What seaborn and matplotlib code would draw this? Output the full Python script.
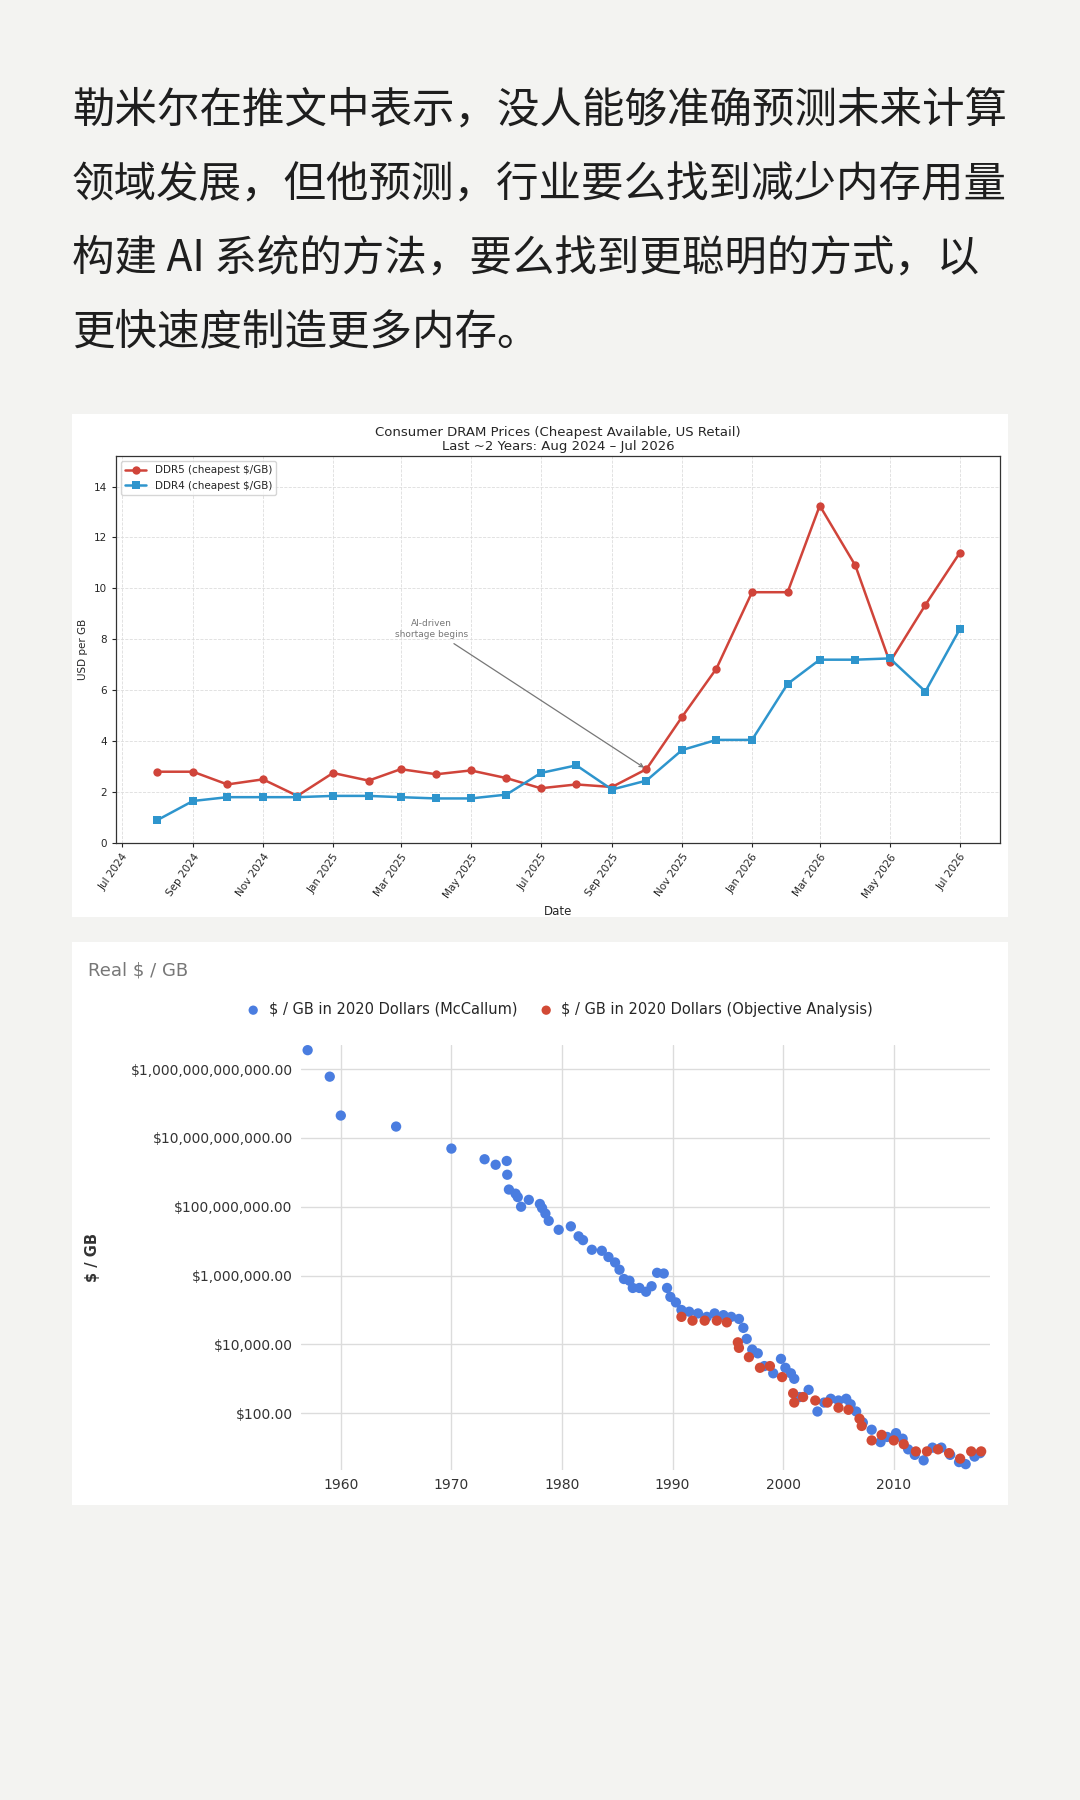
import numpy as np
import pandas as pd
import seaborn as sns
import matplotlib.pyplot as plt
import matplotlib.dates as mdates
from matplotlib.patches import Rectangle
from matplotlib.ticker import FuncFormatter, FixedLocator

# top text
lines = ["勒米尔在推文中表示，没人能够准确预测未来计算",
         "领域发展，但他预测，行业要么找到减少内存用量",
         "构建 AI 系统的方法，要么找到更聪明的方式，以",
         "更快速度制造更多内存。"]

# chart 1: consumer DRAM prices
months = pd.date_range("2024-08-01", "2026-07-01", freq="MS")
ddr5 = [2.8, 2.8, 2.3, 2.5, 1.85, 2.75, 2.45, 2.9, 2.7, 2.85, 2.55, 2.15,
        2.3, 2.2, 2.9, 4.95, 6.85, 9.85, 9.85, 13.25, 10.9, 7.1, 9.35, 11.4]
ddr4 = [0.9, 1.65, 1.8, 1.8, 1.8, 1.85, 1.85, 1.8, 1.75, 1.75, 1.9, 2.75,
        3.05, 2.1, 2.45, 3.65, 4.05, 4.05, 6.25, 7.2, 7.2, 7.25, 5.95, 8.4]

# chart 2: real $/GB (log10 of value)
mc_year = [1957, 1959, 1960, 1965, 1970, 1973, 1974, 1975, 1975.05, 1975.2, 1975.8,
           1976, 1976.3, 1977, 1978, 1978.2, 1978.5, 1978.8, 1979.7, 1980.8, 1981.5,
           1981.9, 1982.7, 1983.6, 1984.2, 1984.8, 1985.2, 1985.6, 1986.1, 1986.4, 1987,
           1987.6, 1988.1, 1988.6, 1989.2, 1989.5, 1989.8, 1990.3, 1990.8, 1991.5, 1992.3,
           1993.1, 1993.8, 1994.6, 1995.3, 1996, 1996.4, 1996.7, 1997.2, 1997.7, 1998.3,
           1999.1, 1999.8, 2000.2, 2000.7, 2001, 2001.5, 2002.3, 2003.1, 2003.7, 2004.3,
           2005, 2005.7, 2006.1, 2006.6, 2007.2, 2008, 2008.8, 2009.4, 2010.2, 2010.8,
           2011.3, 2011.9, 2012.7, 2013.5, 2014.3, 2015.1, 2015.9, 2016.5, 2017.3, 2017.8]
mc_log = [12.55, 11.78, 10.65, 10.33, 9.69, 9.38, 9.22, 9.33, 8.93, 8.5, 8.38,
          8.28, 8.0, 8.2, 8.08, 7.96, 7.8, 7.59, 7.33, 7.43, 7.14,
          7.03, 6.75, 6.72, 6.54, 6.38, 6.17, 5.9, 5.85, 5.64, 5.64,
          5.53, 5.69, 6.08, 6.06, 5.64, 5.38, 5.22, 5.0, 4.95, 4.9,
          4.8, 4.9, 4.85, 4.8, 4.74, 4.48, 4.16, 3.85, 3.74, 3.37,
          3.16, 3.58, 3.32, 3.16, 3.0, 2.47, 2.68, 2.05, 2.31, 2.42,
          2.37, 2.42, 2.26, 2.05, 1.73, 1.52, 1.16, 1.31, 1.42, 1.26,
          0.95, 0.79, 0.63, 1.0, 1.0, 0.79, 0.58, 0.52, 0.74, 0.84]
oa_year = [1990.8, 1991.8, 1992.9, 1994, 1994.9, 1995.9, 1996, 1996.9, 1997.9, 1998.8,
           1999.9, 2000.9, 2001, 2001.8, 2002.9, 2004, 2005, 2005.9, 2006.9, 2007.1,
           2008, 2008.9, 2010, 2010.9, 2012, 2013, 2014, 2015, 2016, 2017, 2017.9]
oa_log = [4.8, 4.69, 4.69, 4.69, 4.64, 4.06, 3.9, 3.63, 3.32, 3.37,
          3.05, 2.58, 2.31, 2.47, 2.37, 2.31, 2.16, 2.1, 1.84, 1.63,
          1.21, 1.37, 1.21, 1.1, 0.89, 0.89, 0.95, 0.84, 0.68, 0.89, 0.89]

sns.set_style("white")
W, H = 1080, 1800
fig = plt.figure(figsize=(W / 100, H / 100), dpi=100)
fig.patch.set_facecolor("#f3f3f1")

def fy(px):
    return 1 - px / H

for i, s in enumerate(lines):
    fig.text(72 / W, fy(110 + i * 74), s, fontsize=30.6, color="#1e1e1e",
             family=["Noto Sans CJK SC", "DejaVu Sans"], va="center", ha="left")

for top, bot in [(414, 917), (942, 1505)]:
    fig.add_artist(Rectangle((72 / W, fy(bot)), 936 / W, (bot - top) / H,
                             transform=fig.transFigure, facecolor="white",
                             edgecolor="none", zorder=0))

# ---- chart 1
ax1 = fig.add_axes([116 / W, fy(843), 884 / W, 387 / H])
df1 = pd.DataFrame({"Date": months, "DDR5": ddr5, "DDR4": ddr4})
sns.lineplot(data=df1, x="Date", y="DDR5", ax=ax1, color="#d0443a", marker="o",
             markersize=6, markeredgewidth=0, lw=1.8, label="DDR5 (cheapest $/GB)")
sns.lineplot(data=df1, x="Date", y="DDR4", ax=ax1, color="#2e95cd", marker="s",
             markersize=6, markeredgewidth=0, lw=1.8, label="DDR4 (cheapest $/GB)")
ax1.set_xlim(pd.Timestamp("2024-06-26"), pd.Timestamp("2026-08-05"))
ax1.set_ylim(0, 15.2)
ax1.xaxis.set_major_locator(mdates.MonthLocator(bymonth=[1, 3, 5, 7, 9, 11]))
ax1.xaxis.set_major_formatter(mdates.DateFormatter("%b %Y"))
plt.setp(ax1.get_xticklabels(), rotation=55, ha="right", rotation_mode="anchor")
ax1.tick_params(labelsize=7.5, length=3, direction="out", bottom=True, left=True)
ax1.grid(True, ls="--", lw=0.6, color="#dddddd")
for sp in ax1.spines.values():
    sp.set_color("#333333")
    sp.set_linewidth(0.9)
ax1.set_xlabel("Date", fontsize=8.5)
ax1.set_ylabel("USD per GB", fontsize=7.5)
ax1.legend(loc="upper left", fontsize=7.5, frameon=True, handlelength=2,
           borderpad=0.4, labelspacing=0.5)
ax1.set_title("Consumer DRAM Prices (Cheapest Available, US Retail)\nLast ~2 Years: Aug 2024 – Jul 2026",
              fontsize=9.5, pad=4, linespacing=1.1)
ax1.annotate("AI-driven\nshortage begins", xy=(months[14], ddr5[14]),
             xytext=(pd.Timestamp("2025-03-28"), 8.4), fontsize=6.5, color="#777777",
             ha="center", va="center",
             arrowprops=dict(arrowstyle="->", color="#777777", lw=0.9))

# ---- chart 2
ax2 = fig.add_axes([301 / W, fy(1470), 689 / W, 425 / H])
df_mc = pd.DataFrame({"year": mc_year, "v": 10 ** np.array(mc_log)})
df_oa = pd.DataFrame({"year": oa_year, "v": 10 ** np.array(oa_log)})
sns.scatterplot(data=df_mc, x="year", y="v", ax=ax2, color="#4a7de0", s=55,
                edgecolor="none", label="$ / GB in 2020 Dollars (McCallum)", zorder=3)
sns.scatterplot(data=df_oa, x="year", y="v", ax=ax2, color="#d24a35", s=55,
                edgecolor="none", label="$ / GB in 2020 Dollars (Objective Analysis)", zorder=4)
ax2.set_yscale("log")
ax2.set_ylim(10 ** 0.35, 10 ** 12.7)
ax2.set_xlim(1956.4, 2018.7)
ax2.yaxis.set_major_locator(FixedLocator([1e2, 1e4, 1e6, 1e8, 1e10, 1e12]))
ax2.yaxis.set_minor_locator(FixedLocator([]))
ax2.yaxis.set_major_formatter(FuncFormatter(lambda v, p: "${:,.2f}".format(v)))
ax2.set_xticks([1960, 1970, 1980, 1990, 2000, 2010])
ax2.grid(True, color="#dcdcdc", lw=1)
for sp in ax2.spines.values():
    sp.set_visible(False)
ax2.tick_params(labelsize=10, colors="#333333", length=0, pad=6)
ax2.set_xlabel("")
ax2.set_ylabel("$ / GB", fontsize=10.5, color="#333333", fontweight="bold", labelpad=22)
ax2.legend(loc="lower center", bbox_to_anchor=(0.37, 1.035), ncol=2, frameon=False,
           fontsize=10.5, handletextpad=0.05, columnspacing=1.0, markerscale=0.9)
fig.text(88 / W, fy(970), "Real $ / GB", fontsize=13, color="#777777", va="center")

fig.savefig("out.png", dpi=100, facecolor=fig.get_facecolor())
